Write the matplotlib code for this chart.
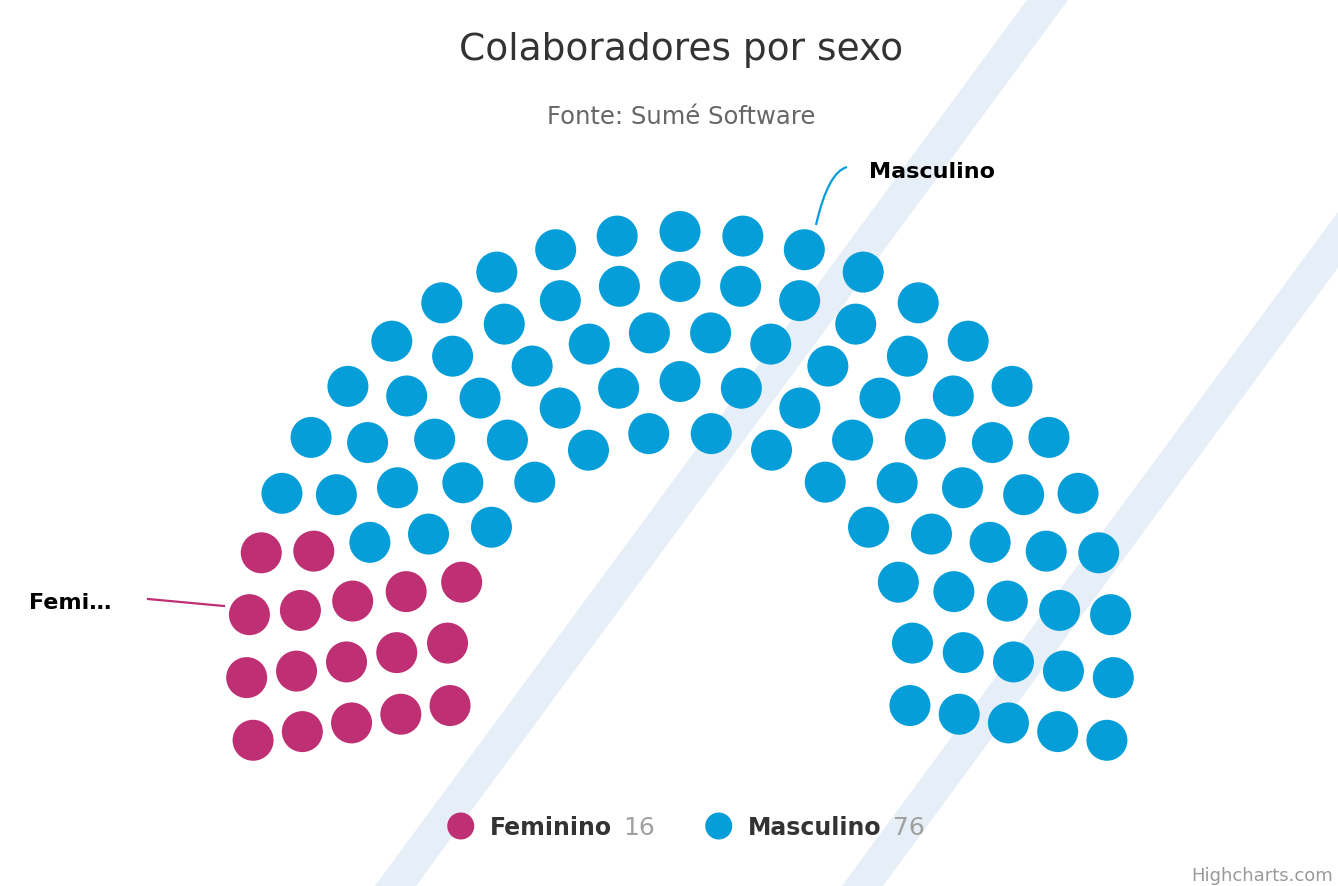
import numpy as np
import matplotlib
matplotlib.use("Agg")
import matplotlib.pyplot as plt
from matplotlib.patches import Circle, Polygon, PathPatch
from matplotlib.path import Path

# ---- data ----
categories = ["Feminino", "Masculino"]
values = [16, 76]
colors = ["#BE2F73", "#069ED9"]
row_slots = [14, 17, 20, 23, 25]          # seats per row (inner -> outer)
title = "Colaboradores por sexo"
subtitle = "Fonte: Sumé Software"

# ---- figure ----
W, H = 1338, 886
fig = plt.figure(figsize=(W / 100, H / 100), dpi=100)
ax = fig.add_axes([0, 0, 1, 1])
ax.set_xlim(0, W)
ax.set_ylim(H, 0)
ax.axis("off")

# background stripes
stripe_col = "#E6EEF7"
s = 0.736
for x_top_l, x_top_r in [(1027, 1068), (1494, 1535)]:
    poly = [(x_top_l, 0), (x_top_r, 0), (x_top_r - s * H, H), (x_top_l - s * H, H)]
    ax.add_patch(Polygon(poly, closed=True, fc=stripe_col, ec="none", zorder=0))

# ---- parliament layout ----
cx, cy = 680, 665
r_in, r_out = 233.5, 433.5
start, end = -100.0, 100.0
dot_r = 20.5
radii = np.linspace(r_in, r_out, len(row_slots))

slots = []
for R, n in zip(radii, row_slots):
    for k in range(n):
        ang = start + (end - start) * k / (n - 1)
        slots.append((ang, R))
slots.sort(key=lambda t: (round(t[0], 6), t[1]))

total_slots = len(slots)
total = sum(values)
raw = [v / total * total_slots for v in values]
counts = [int(np.floor(r)) for r in raw]
rem = total_slots - sum(counts)
order = np.argsort([-(r - np.floor(r)) for r in raw])
for i in order[:rem]:
    counts[i] += 1

idx = 0
for ci, c in enumerate(counts):
    for _ in range(c):
        ang, R = slots[idx]
        t = np.radians(ang)
        x = cx + R * np.sin(t)
        y = cy - R * np.cos(t)
        ax.add_patch(Circle((x, y), dot_r, fc=colors[ci], ec="none", zorder=3))
        idx += 1

# ---- titles ----
ax.text(681, 50, title, ha="center", va="center", fontsize=27, color="#333333",
        family="DejaVu Sans")
ax.text(681, 117, subtitle, ha="center", va="center", fontsize=17.5, color="#666666",
        family="DejaVu Sans")

# ---- data labels ----
path = Path([(816, 225), (828, 172), (847, 167)], [Path.MOVETO, Path.CURVE3, Path.CURVE3])
ax.add_patch(PathPatch(path, fc="none", ec=colors[1], lw=1.6, zorder=4))
ax.text(869, 172, categories[1], ha="left", va="center", fontsize=16, fontweight="bold",
        color="#000000", zorder=5)
ax.plot([148, 224], [599, 606], color=colors[0], lw=1.6, zorder=4)
ax.text(29, 603, categories[0][:4] + "…", ha="left", va="center", fontsize=16,
        fontweight="bold", color="#000000", zorder=5)

# ---- legend ----
fig.canvas.draw()
renderer = fig.canvas.get_renderer()

def width_px(txt):
    return txt.get_window_extent(renderer=renderer).width

leg_y = 828
items = []
for name, v in zip(categories, values):
    t1 = ax.text(0, leg_y, name, fontsize=17, fontweight="bold", color="#333333",
                 ha="left", va="center")
    t2 = ax.text(0, leg_y, str(v), fontsize=18, color="#A0A0A0", ha="left", va="center")
    items.append((t1, t2, width_px(t1), width_px(t2)))

sym_w, sym_pad, val_gap, item_gap = 27, 16, 11, 50
total_w = sum(sym_w + sym_pad + w1 + val_gap + w2 for _, _, w1, w2 in items) + item_gap * (len(items) - 1)
x = 686 - total_w / 2
for (t1, t2, w1, w2), col in zip(items, colors):
    ax.add_patch(Circle((x + sym_w / 2, leg_y - 2), 13.5, fc=col, ec="none", zorder=3))
    t1.set_x(x + sym_w + sym_pad)
    t2.set_x(x + sym_w + sym_pad + w1 + val_gap)
    x += sym_w + sym_pad + w1 + val_gap + w2 + item_gap

# credit
ax.text(1333, 876, "Highcharts.com", ha="right", va="center", fontsize=13, color="#999999")

fig.savefig("out.png", dpi=100, facecolor="white")
